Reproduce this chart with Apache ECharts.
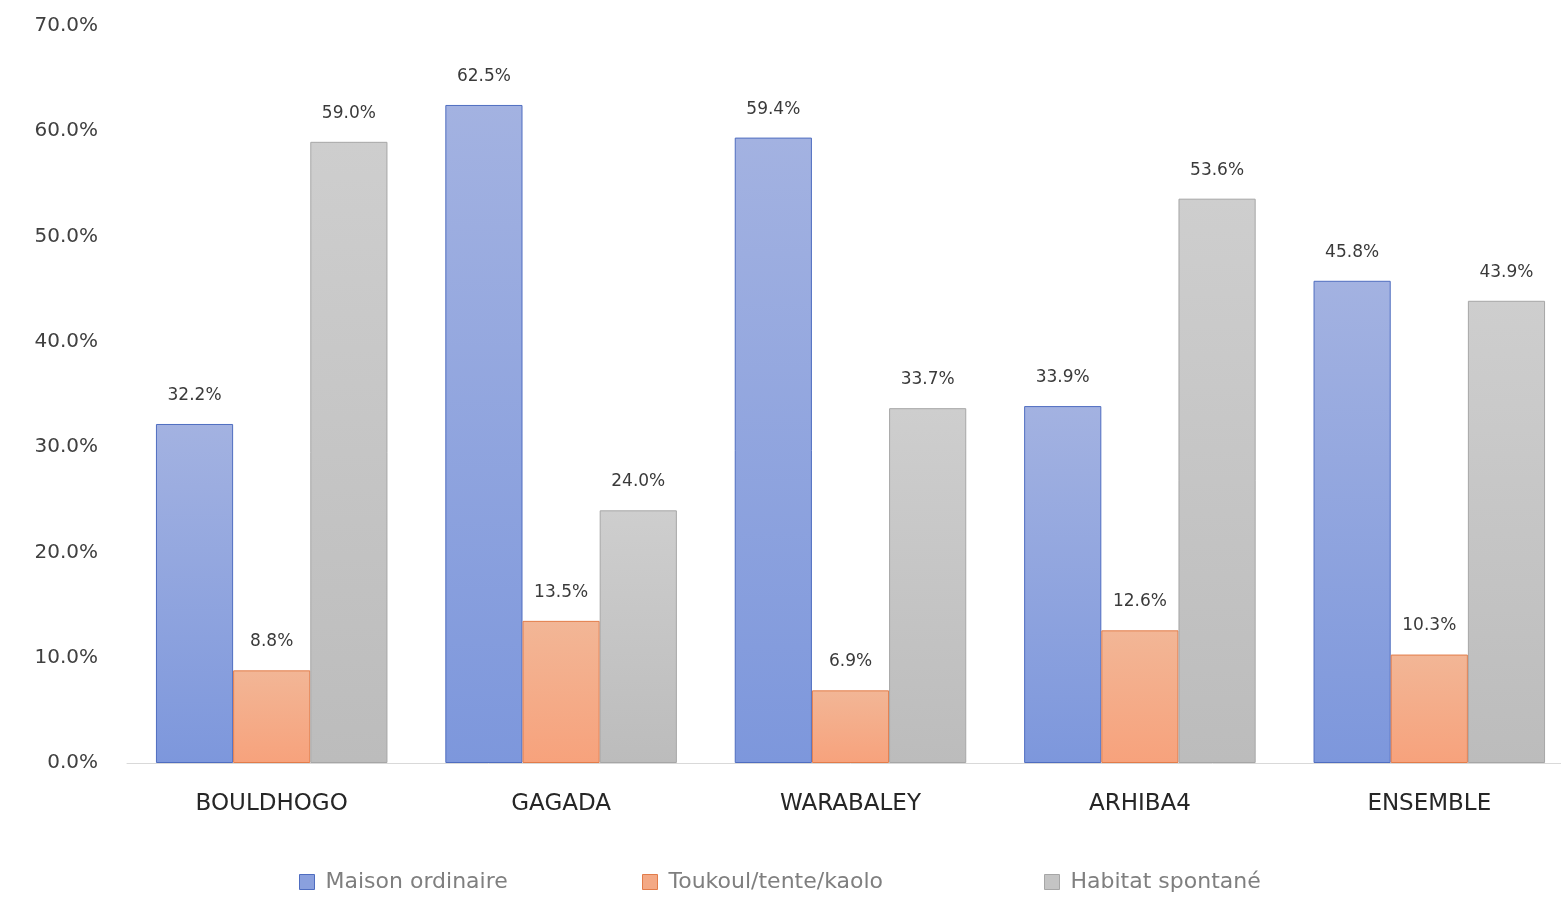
<!DOCTYPE html>
<html>
<head>
<meta charset="utf-8">
<script src="https://cdn.jsdelivr.net/npm/echarts@6/dist/echarts.min.js"></script>
<style>
html,body{margin:0;padding:0;background:#fff;overflow:hidden;}
#chart{width:1574px;height:898px;}
</style>
</head>
<body>
<div id="chart"></div>
<script>
const categories = ['BOULDHOGO', 'GAGADA', 'WARABALEY', 'ARHIBA4', 'ENSEMBLE'];
const seriesNames = ['Maison ordinaire', 'Toukoul/tente/kaolo', 'Habitat spontané'];
const maisonOrdinaire = [32.2, 62.5, 59.4, 33.9, 45.8];
const toukoul = [8.8, 13.5, 6.9, 12.6, 10.3];
const habitatSpontane = [59.0, 24.0, 33.7, 53.6, 43.9];

const fontFamily = '"DejaVu Sans", "Liberation Sans", sans-serif';

function grad(top, bottom) {
  return new echarts.graphic.LinearGradient(0, 0, 0, 1, [
    { offset: 0, color: top },
    { offset: 1, color: bottom }
  ]);
}

const styles = [
  { fill: grad('#a3b2e1', '#7d97dc'), border: '#4f6dc0', legend: '#8aa0de' },
  { fill: grad('#f2b696', '#f7a27c'), border: '#e27c4a', legend: '#f4a985' },
  { fill: grad('#cecece', '#bcbcbc'), border: '#a6a6a6', legend: '#c4c4c4' }
];

const dataSets = [maisonOrdinaire, toukoul, habitatSpontane];
const legendLefts = [294, 637, 1039];

const chart = echarts.init(document.getElementById('chart'), null, { renderer: 'canvas' });

chart.setOption({
  backgroundColor: '#ffffff',
  animation: false,
  grid: { left: 127, right: 0, top: 26, bottom: 135, containLabel: false },
  legend: seriesNames.map((n, i) => ({
    top: 866,
    left: legendLefts[i],
    itemWidth: 15,
    itemHeight: 15,
    itemGap: 10,
    icon: 'rect',
    textStyle: { fontFamily: fontFamily, fontSize: 22, color: '#7f7f7f', padding: [0, 0, 0, 6] },
    data: [{ name: n, itemStyle: { color: styles[i].legend, borderColor: styles[i].border, borderWidth: 1 } }]
  })),
  xAxis: {
    type: 'category',
    data: categories,
    axisLine: { show: true, lineStyle: { color: '#d9d9d9', width: 1 } },
    axisTick: { show: false },
    axisLabel: { margin: 30, fontFamily: fontFamily, fontSize: 23, color: '#262626' }
  },
  yAxis: {
    type: 'value',
    min: 0,
    max: 70,
    interval: 10,
    splitLine: { show: false },
    axisLine: { show: false },
    axisTick: { show: false },
    axisLabel: {
      margin: 29,
      fontFamily: fontFamily,
      fontSize: 20,
      color: '#404040',
      formatter: v => v.toFixed(1) + '%'
    }
  },
  series: dataSets.map((d, i) => ({
    name: seriesNames[i],
    type: 'bar',
    data: d,
    barGap: '0%',
    barCategoryGap: '20%',
    itemStyle: { color: styles[i].fill, borderColor: styles[i].border, borderWidth: 1 },
    label: {
      show: true,
      position: 'top',
      distance: 20,
      fontFamily: fontFamily,
      fontSize: 17,
      color: '#3a3a3a',
      formatter: p => p.value.toFixed(1) + '%'
    }
  }))
});
</script>
</body>
</html>
